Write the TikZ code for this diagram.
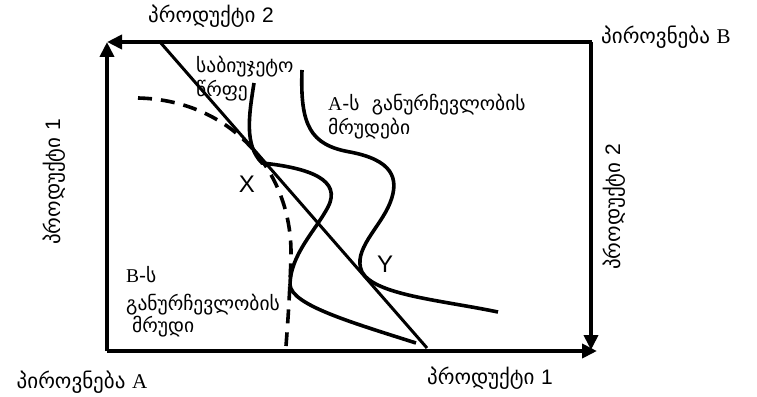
\documentclass[tikz,border=0pt]{standalone}
\usepackage{fontspec}
\setmainfont{Liberation Serif}
\newfontfamily\geo{DejaVu Sans}
\newfontfamily\ari{Liberation Sans}
\usetikzlibrary{arrows.meta}
\tikzset{
  axisline/.style={line width=4pt,-{Triangle[length=15pt,width=14pt]}},
  curveA/.style={line width=3.6pt},
  curveB/.style={line width=3.6pt,dash pattern=on 14pt off 9pt},
  budget/.style={line width=3pt},
  lbl/.style={inner sep=0pt,anchor=base,font=\geo\fontsize{21}{24}\selectfont},
  mid/.style={inner sep=0pt,anchor=base west,font=\geo\fontsize{19.5}{24}\selectfont},
  pt/.style={inner sep=0pt,font=\ari\fontsize{24}{26}\selectfont}
}
\begin{document}
\begin{tikzpicture}[x=1pt,y=-1pt]
\useasboundingbox (0,0) rectangle (757,396);
% box corners
\coordinate (TL) at (107,42);
\coordinate (TR) at (592,42);
\coordinate (BL) at (107,351);
\coordinate (BR) at (597,351);
\coordinate (RT) at (591,42);
\coordinate (RB) at (591,350);
\draw[axisline] (TR) -- (TL);
\draw[axisline] (BL) -- (TL);
\draw[axisline] (BL) -- (BR);
\draw[axisline] (RT) -- (RB);
% budget line
\coordinate (b1) at (160,42);
\coordinate (b2) at (427,348);
\draw[budget] (b1) -- (b2);
% B indifference curve (dashed)
\draw[curveB] (138,98) .. controls (230,100) and (292,170) .. (291,255)
  .. controls (290,290) and (288,320) .. (286,346);
% A indifference curves
\draw[curveA] (254,83) .. controls (249,115) and (244,145) .. (262,163)
  .. controls (310,168) and (342,180) .. (328,207)
  .. controls (316,230) and (290,255) .. (290,285)
  .. controls (292,305) and (350,322) .. (416,343);
\draw[curveA] (302,70) .. controls (300,125) and (310,145) .. (350,152)
  .. controls (392,160) and (400,178) .. (390,203)
  .. controls (380,228) and (352,250) .. (362,272)
  .. controls (375,295) and (440,300) .. (498,312);
% labels
\node[lbl] (p2top) at (211,23) {პროდუქტი {\ari 2}};
\node[lbl,anchor=base west] (pB) at (601,44) {პიროვნება {\rmfamily B}};
\node[lbl,rotate=90] (p1left) at (60,182) {პროდუქტი {\ari 1}};
\node[lbl,rotate=90] (p2right) at (620,207) {პროდუქტი {\ari 2}};
\node[lbl] (pA) at (82,388) {პიროვნება {\rmfamily A}};
\node[lbl] (p1bot) at (490,384) {პროდუქტი {\ari 1}};
\node[mid] (bud1) at (196,72) {საბიუჯეტო};
\node[mid] (bud2) at (196,96) {წრფე};
\node[mid] (A1) at (328,110) {{\rmfamily A}-ს~~განურჩევლობის};
\node[mid] (A2) at (328,134) {მრუდები};
\node[mid] (B1) at (126,282) {{\rmfamily B}-ს};
\node[mid] (B2) at (126,310) {განურჩევლობის};
\node[mid] (B3) at (132,332) {მრუდი};
\node[pt] (X) at (247,184) {X};
\node[pt] (Y) at (385,264) {Y};
\end{tikzpicture}
\end{document}
